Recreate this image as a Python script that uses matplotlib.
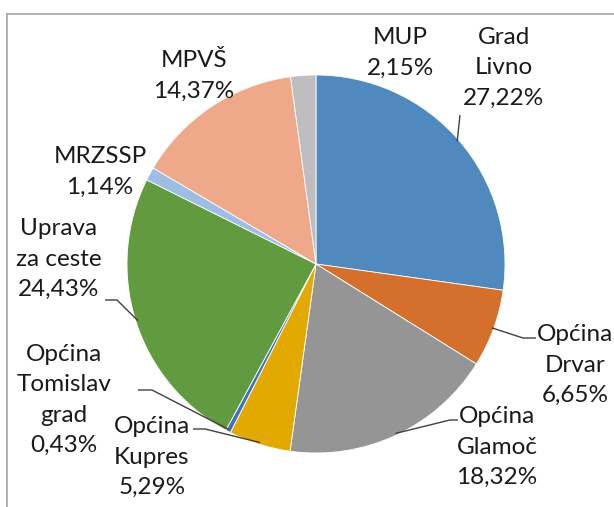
import matplotlib
matplotlib.use('Agg')
import matplotlib.pyplot as plt
import numpy as np

# data
labels = ['Grad\nLivno', 'Općina\nDrvar', 'Općina\nGlamoč', 'Općina\nKupres',
          'Općina\nTomislav\ngrad', 'Uprava\nza ceste', 'MRZSSP', 'MPVŠ', 'MUP']
shares = [27.22, 6.65, 18.32, 5.29, 0.43, 24.43, 1.14, 14.37, 2.15]
colors = ['#4F89BD', '#D4702B', '#959595', '#E2AA00', '#4470C0',
          '#629A3F', '#9DBDE3', '#F0A88A', '#BEBEBE']

# pixel layout helpers (figure is 614x507 px, pie centre at 316,264, radius 189)
W, H = 614, 507
CX, CY, R = 316, 264, 189


def px(x, y):
    return ((x - CX) / R, (CY - y) / R)


# label block centres in px, and optional leader elbow points
label_pos = [(504, 68), (575, 365), (497, 447), (152, 457),
             (64, 400), (59, 259), (100, 172), (194, 76), (400, 53)]
leaders = {
    0: [(460, 115)],
    1: [(536, 338), (523, 338)],
    2: [(458, 420), (450, 420)],
    3: [(193, 429), (205, 429)],
    4: [(138, 390), (152, 390)],
    5: [(105, 300), (117, 300)],
}

plt.rcParams['font.family'] = ['Lato', 'DejaVu Sans']

fig = plt.figure(figsize=(W / 100, H / 100), dpi=100)
ax = fig.add_axes([0, 0, 1, 1])

wedges, _ = ax.pie(shares, colors=colors, startangle=90, counterclock=False,
                   radius=1, wedgeprops=dict(edgecolor='white', linewidth=0.6))

ax.set_xlim((0 - CX) / R, (W - CX) / R)
ax.set_ylim((CY - H) / R, CY / R)
ax.set_aspect('auto')
ax.axis('off')

for i, (lab, val) in enumerate(zip(labels, shares)):
    txt = lab + '\n' + f'{val:.2f}'.replace('.', ',') + '%'
    x, y = px(*label_pos[i])
    ax.text(x, y, txt, ha='center', va='center', fontsize=17.5,
            color='#1a1a1a', linespacing=1.56)
    if i in leaders:
        w = wedges[i]
        mid = np.deg2rad((w.theta1 + w.theta2) / 2)
        pts = [px(*p) for p in leaders[i]] + [(0.99 * np.cos(mid), 0.99 * np.sin(mid))]
        xs, ys = zip(*pts)
        ax.plot(xs, ys, color='#404040', lw=1.0, solid_capstyle='butt')

# chart frame (only left and top edges visible in the crop)
fx0, fy0 = 7 / W, 1 - 14 / H
fig.add_artist(plt.Line2D([fx0, fx0], [fy0, -0.1], color='#A6A6A6', lw=1.2,
                          transform=fig.transFigure))
fig.add_artist(plt.Line2D([fx0, 1.1], [fy0, fy0], color='#A6A6A6', lw=1.2,
                          transform=fig.transFigure))

fig.savefig('out.png', dpi=100)
